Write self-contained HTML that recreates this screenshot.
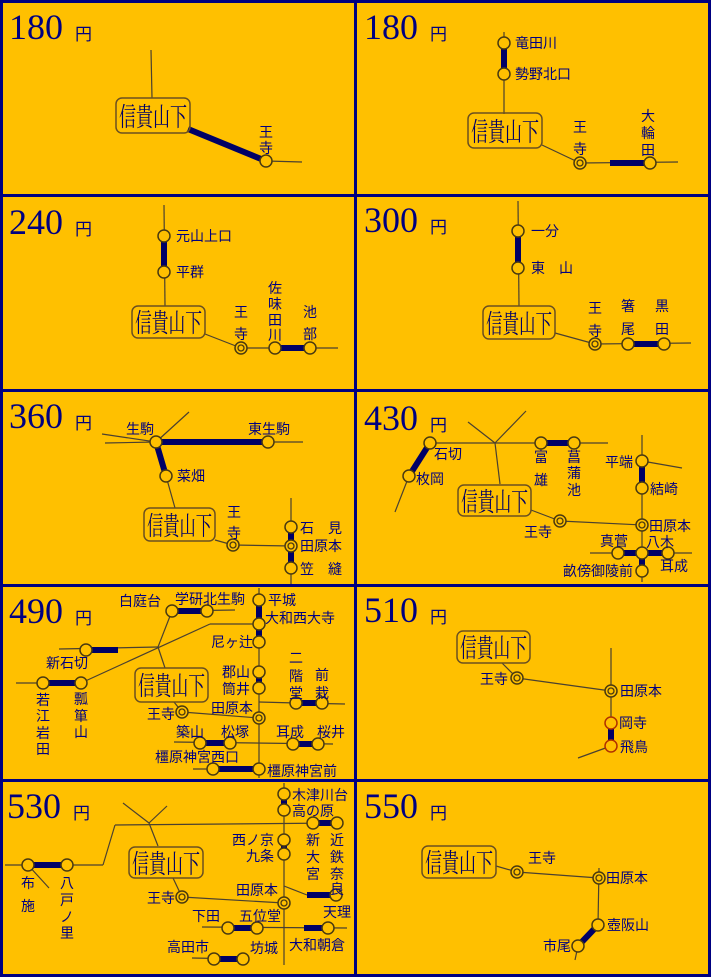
<!DOCTYPE html>
<html><head><meta charset="utf-8"><style>
html,body{margin:0;padding:0;background:#FFC000}
svg{display:block}
.t{stroke:#4a4030;stroke-width:1.2;fill:none}
.k{stroke:#000066;stroke-width:6;fill:none}
.c{fill:#FFC000;stroke:#4a3a10;stroke-width:1.5}
.i{fill:none;stroke:#4a3a10;stroke-width:1.3}
.b{fill:none;stroke:#6b5020;stroke-width:1.5}
text{fill:#000080;font-family:"Liberation Sans","Noto Sans CJK JP",sans-serif;font-size:14px}
.n{font-family:"Liberation Serif",serif;font-size:36px}
.y{font-size:17px}
.m{font-family:"Noto Serif CJK JP","Noto Sans CJK JP",serif;font-size:26px;fill:#000066}
.v{text-anchor:middle}
</style></head><body>
<svg width="711" height="977" viewBox="0 0 711 977" xmlns="http://www.w3.org/2000/svg">
<rect width="711" height="977" fill="#FFC000"/>
<g stroke="#000080" stroke-width="3">
<line x1="1.5" y1="0" x2="1.5" y2="977"/><line x1="355.5" y1="0" x2="355.5" y2="977"/><line x1="709.5" y1="0" x2="709.5" y2="977"/>
<line x1="0" y1="1.5" x2="711" y2="1.5"/><line x1="0" y1="195.5" x2="711" y2="195.5"/><line x1="0" y1="390.5" x2="711" y2="390.5"/><line x1="0" y1="585.5" x2="711" y2="585.5"/><line x1="0" y1="780.5" x2="711" y2="780.5"/><line x1="0" y1="975.5" x2="711" y2="975.5"/>
</g>

<!-- fares -->
<text class="n" x="9" y="39">180</text><text class="y" x="75" y="40">円</text>
<text class="n" x="364" y="39">180</text><text class="y" x="430" y="40">円</text>
<text class="n" x="9" y="234">240</text><text class="y" x="75" y="235">円</text>
<text class="n" x="364" y="232">300</text><text class="y" x="430" y="233">円</text>
<text class="n" x="9" y="428">360</text><text class="y" x="75" y="429">円</text>
<text class="n" x="364" y="430">430</text><text class="y" x="430" y="431">円</text>
<text class="n" x="9" y="623">490</text><text class="y" x="75" y="624">円</text>
<text class="n" x="364" y="622">510</text><text class="y" x="430" y="623">円</text>
<text class="n" x="7" y="818">530</text><text class="y" x="73" y="819">円</text>
<text class="n" x="364" y="818">550</text><text class="y" x="430" y="819">円</text>

<!-- Panel 1 -->
<line class="t" x1="151" y1="50" x2="152" y2="98"/>
<line class="k" x1="188" y1="129" x2="266" y2="161"/>
<line class="t" x1="266" y1="161" x2="302" y2="162"/>
<circle class="c" cx="266" cy="161" r="6"/>
<text class="v" x="266" y="137">王</text><text class="v" x="266" y="153">寺</text>
<rect class="b" x="116" y="98" width="74" height="35" rx="6"/>
<text class="m" x="119" y="126" textLength="68" lengthAdjust="spacingAndGlyphs">信貴山下</text>

<!-- Panel 2 -->
<line class="t" x1="504" y1="32" x2="504" y2="114"/>
<line class="k" x1="504" y1="43" x2="504" y2="74"/>
<circle class="c" cx="504" cy="43" r="6"/><circle class="c" cx="504" cy="74" r="6"/>
<text x="515" y="48">竜田川</text><text x="515" y="79">勢野北口</text>
<line class="t" x1="542" y1="145" x2="580" y2="163"/>
<line class="t" x1="580" y1="163" x2="678" y2="162"/>
<line class="k" x1="610" y1="163" x2="648" y2="163"/>
<circle class="c" cx="580" cy="163" r="6"/><circle class="i" cx="580" cy="163" r="3"/>
<circle class="c" cx="650" cy="163" r="6"/>
<text class="v" x="580" y="132">王</text><text class="v" x="580" y="154">寺</text>
<text class="v" x="648" y="121">大</text><text class="v" x="648" y="138">輪</text><text class="v" x="648" y="155">田</text>
<rect class="b" x="468" y="113" width="74" height="35" rx="6"/>
<text class="m" x="471" y="141" textLength="68" lengthAdjust="spacingAndGlyphs">信貴山下</text>

<!-- Panel 3 -->
<line class="t" x1="164" y1="205" x2="165" y2="306"/>
<line class="k" x1="164" y1="236" x2="164" y2="272"/>
<circle class="c" cx="164" cy="236" r="6"/><circle class="c" cx="164" cy="272" r="6"/>
<text x="176" y="241">元山上口</text><text x="176" y="277">平群</text>
<line class="t" x1="205" y1="334" x2="241" y2="348"/>
<line class="t" x1="241" y1="348" x2="338" y2="348"/>
<line class="k" x1="275" y1="348" x2="310" y2="348"/>
<circle class="c" cx="241" cy="348" r="6"/><circle class="i" cx="241" cy="348" r="3"/>
<circle class="c" cx="275" cy="348" r="6"/><circle class="c" cx="310" cy="348" r="6"/>
<text class="v" x="241" y="317">王</text><text class="v" x="241" y="339">寺</text>
<text class="v" x="275" y="293">佐</text><text class="v" x="275" y="309">味</text><text class="v" x="275" y="325">田</text><text class="v" x="275" y="340">川</text>
<text class="v" x="310" y="317">池</text><text class="v" x="310" y="339">部</text>
<rect class="b" x="132" y="306" width="73" height="32" rx="6"/>
<text class="m" x="135" y="332" textLength="67" lengthAdjust="spacingAndGlyphs">信貴山下</text>

<!-- Panel 4 -->
<line class="t" x1="518" y1="201" x2="519" y2="306"/>
<line class="k" x1="518" y1="231" x2="518" y2="268"/>
<circle class="c" cx="518" cy="231" r="6"/><circle class="c" cx="518" cy="268" r="6"/>
<text x="531" y="236">一分</text><text x="531" y="273">東　山</text>
<line class="t" x1="555" y1="333" x2="595" y2="344"/>
<line class="t" x1="595" y1="344" x2="691" y2="343"/>
<line class="k" x1="628" y1="344" x2="664" y2="344"/>
<circle class="c" cx="595" cy="344" r="6"/><circle class="i" cx="595" cy="344" r="3"/>
<circle class="c" cx="628" cy="344" r="6"/><circle class="c" cx="664" cy="344" r="6"/>
<text class="v" x="595" y="313">王</text><text class="v" x="595" y="336">寺</text>
<text class="v" x="628" y="311">箸</text><text class="v" x="628" y="334">尾</text>
<text class="v" x="662" y="311">黒</text><text class="v" x="662" y="334">田</text>
<rect class="b" x="483" y="306" width="72" height="33" rx="6"/>
<text class="m" x="486" y="333" textLength="66" lengthAdjust="spacingAndGlyphs">信貴山下</text>

<!-- Panel 5 -->
<line class="t" x1="102" y1="434" x2="156" y2="442"/>
<line class="t" x1="105" y1="443" x2="156" y2="442"/>
<line class="t" x1="156" y1="442" x2="189" y2="412"/>
<line class="t" x1="268" y1="442" x2="303" y2="442"/>
<line class="k" x1="156" y1="442" x2="268" y2="442"/>
<line class="k" x1="156" y1="442" x2="166" y2="476"/>
<line class="t" x1="166" y1="476" x2="175" y2="508"/>
<circle class="c" cx="156" cy="442" r="6"/><circle class="c" cx="268" cy="442" r="6"/><circle class="c" cx="166" cy="476" r="6"/>
<text x="126" y="434">生駒</text><text x="248" y="434">東生駒</text><text x="177" y="481">菜畑</text>
<line class="t" x1="215" y1="540" x2="233" y2="545"/>
<line class="t" x1="233" y1="545" x2="291" y2="546"/>
<line class="t" x1="291" y1="498" x2="291" y2="584"/>
<line class="k" x1="291" y1="527" x2="291" y2="568"/>
<circle class="c" cx="233" cy="545" r="6"/><circle class="i" cx="233" cy="545" r="3"/>
<circle class="c" cx="291" cy="527" r="6"/><circle class="c" cx="291" cy="546" r="6"/><circle class="i" cx="291" cy="546" r="3"/><circle class="c" cx="291" cy="568" r="6"/>
<text class="v" x="234" y="517">王</text><text class="v" x="234" y="538">寺</text>
<text x="300" y="533">石　見</text><text x="300" y="551">田原本</text><text x="300" y="574">笠　縫</text>
<rect class="b" x="144" y="508" width="71" height="33" rx="6"/>
<text class="m" x="147" y="535" textLength="65" lengthAdjust="spacingAndGlyphs">信貴山下</text>

<!-- Panel 6 -->
<line class="t" x1="468" y1="422" x2="495" y2="443"/>
<line class="t" x1="495" y1="443" x2="526" y2="411"/>
<line class="t" x1="495" y1="443" x2="500" y2="484"/>
<line class="t" x1="430" y1="443" x2="608" y2="443"/>
<line class="k" x1="541" y1="443" x2="574" y2="443"/>
<line class="k" x1="430" y1="443" x2="409" y2="476"/>
<line class="t" x1="409" y1="476" x2="395" y2="512"/>
<circle class="c" cx="430" cy="443" r="6"/><circle class="c" cx="409" cy="476" r="6"/><circle class="c" cx="541" cy="443" r="6"/><circle class="c" cx="574" cy="443" r="6"/>
<text x="434" y="459">石切</text><text x="416" y="484">枚岡</text>
<text class="v" x="541" y="462">富</text><text class="v" x="541" y="485">雄</text>
<text class="v" x="574" y="462">菖</text><text class="v" x="574" y="478">蒲</text><text class="v" x="574" y="495">池</text>
<line class="t" x1="531" y1="510" x2="560" y2="521"/>
<line class="t" x1="560" y1="521" x2="642" y2="525"/>
<line class="t" x1="642" y1="435" x2="642" y2="582"/>
<line class="t" x1="642" y1="461" x2="682" y2="468"/>
<line class="k" x1="642" y1="461" x2="642" y2="488"/>
<line class="t" x1="590" y1="553" x2="692" y2="553"/>
<line class="k" x1="618" y1="553" x2="668" y2="553"/>
<line class="k" x1="642" y1="553" x2="642" y2="571"/>
<circle class="c" cx="560" cy="521" r="6"/><circle class="i" cx="560" cy="521" r="3"/>
<circle class="c" cx="642" cy="461" r="6"/><circle class="c" cx="642" cy="488" r="6"/>
<circle class="c" cx="642" cy="525" r="6"/><circle class="i" cx="642" cy="525" r="3"/>
<circle class="c" cx="618" cy="553" r="6"/><circle class="c" cx="642" cy="553" r="6"/><circle class="c" cx="668" cy="553" r="6"/><circle class="c" cx="642" cy="571" r="6"/>
<text x="605" y="467">平端</text><text x="650" y="494">結崎</text><text x="524" y="537">王寺</text>
<text x="649" y="531">田原本</text><text x="600" y="546">真菅</text><text x="646" y="547">八木</text>
<text x="660" y="571">耳成</text><text x="563" y="576">畝傍御陵前</text>
<rect class="b" x="458" y="485" width="73" height="31" rx="6"/>
<text class="m" x="461" y="511" textLength="67" lengthAdjust="spacingAndGlyphs">信貴山下</text>

<!-- Panel 7 -->
<line class="t" x1="259" y1="588" x2="259" y2="778"/>
<line class="k" x1="259" y1="600" x2="259" y2="642"/>
<line class="k" x1="259" y1="672" x2="259" y2="688"/>
<line class="t" x1="172" y1="611" x2="235" y2="610"/>
<line class="k" x1="172" y1="611" x2="207" y2="611"/>
<line class="t" x1="172" y1="611" x2="158" y2="647"/>
<line class="t" x1="158" y1="647" x2="165" y2="668"/>
<line class="t" x1="59" y1="649" x2="158" y2="647"/>
<line class="k" x1="86" y1="650" x2="118" y2="650"/>
<line class="t" x1="259" y1="624" x2="210" y2="624"/>
<line class="t" x1="210" y1="624" x2="81" y2="683"/>
<line class="t" x1="16" y1="683" x2="43" y2="683"/>
<line class="k" x1="43" y1="683" x2="81" y2="683"/>
<line class="t" x1="174" y1="702" x2="182" y2="712"/>
<line class="t" x1="182" y1="712" x2="259" y2="718"/>
<line class="t" x1="259" y1="702" x2="296" y2="703"/>
<line class="t" x1="296" y1="703" x2="345" y2="704"/>
<line class="k" x1="296" y1="703" x2="322" y2="703"/>
<line class="t" x1="174" y1="742" x2="333" y2="744"/>
<line class="k" x1="200" y1="743" x2="230" y2="743"/>
<line class="k" x1="293" y1="744" x2="318" y2="744"/>
<line class="t" x1="193" y1="769" x2="213" y2="769"/>
<line class="k" x1="213" y1="769" x2="259" y2="769"/>
<circle class="c" cx="259" cy="600" r="6"/><circle class="c" cx="259" cy="624" r="6"/><circle class="c" cx="259" cy="642" r="6"/>
<circle class="c" cx="259" cy="672" r="6"/><circle class="c" cx="259" cy="688" r="6"/>
<circle class="c" cx="259" cy="718" r="6"/><circle class="i" cx="259" cy="718" r="3"/>
<circle class="c" cx="259" cy="769" r="6"/>
<circle class="c" cx="172" cy="611" r="6"/><circle class="c" cx="207" cy="611" r="6"/>
<circle class="c" cx="86" cy="650" r="6"/><circle class="c" cx="43" cy="683" r="6"/><circle class="c" cx="81" cy="683" r="6"/>
<circle class="c" cx="182" cy="712" r="6"/><circle class="i" cx="182" cy="712" r="3"/>
<circle class="c" cx="296" cy="703" r="6"/><circle class="c" cx="322" cy="703" r="6"/>
<circle class="c" cx="200" cy="743" r="6"/><circle class="c" cx="230" cy="743" r="6"/><circle class="c" cx="293" cy="744" r="6"/><circle class="c" cx="318" cy="744" r="6"/>
<circle class="c" cx="213" cy="769" r="6"/>
<text x="119" y="606">白庭台</text><text x="175" y="604">学研北生駒</text>
<text x="268" y="605">平城</text><text x="265" y="623">大和西大寺</text><text x="211" y="647">尼ヶ辻</text>
<text x="46" y="668">新石切</text><text x="222" y="677">郡山</text><text x="222" y="694">筒井</text>
<text class="v" x="296" y="663">二</text><text class="v" x="296" y="681">階</text><text class="v" x="296" y="698">堂</text>
<text class="v" x="322" y="680">前</text><text class="v" x="322" y="698">栽</text>
<text class="v" x="43" y="705">若</text><text class="v" x="43" y="721">江</text><text class="v" x="43" y="738">岩</text><text class="v" x="43" y="754">田</text>
<text class="v" x="81" y="704">瓢</text><text class="v" x="81" y="721">箪</text><text class="v" x="81" y="737">山</text>
<text x="147" y="719">王寺</text><text x="211" y="713">田原本</text>
<text x="176" y="737">築山</text><text x="221" y="737">松塚</text><text x="276" y="737">耳成</text><text x="317" y="737">桜井</text>
<text x="155" y="762">橿原神宮西口</text><text x="267" y="776">橿原神宮前</text>
<rect class="b" x="135" y="668" width="73" height="34" rx="6"/>
<text class="m" x="138" y="695" textLength="67" lengthAdjust="spacingAndGlyphs">信貴山下</text>

<!-- Panel 8 -->
<line class="t" x1="502" y1="663" x2="517" y2="678"/>
<line class="t" x1="517" y1="678" x2="611" y2="691"/>
<line class="t" x1="611" y1="648" x2="611" y2="746"/>
<line class="k" x1="611" y1="723" x2="611" y2="746"/>
<line class="t" x1="611" y1="746" x2="578" y2="758"/>
<circle class="c" cx="517" cy="678" r="6"/><circle class="i" cx="517" cy="678" r="3"/>
<circle class="c" cx="611" cy="691" r="6"/><circle class="i" cx="611" cy="691" r="3"/>
<circle class="c" cx="611" cy="723" r="6" style="stroke:#b03000"/><circle class="c" cx="611" cy="746" r="6" style="stroke:#b03000"/>
<text x="480" y="684">王寺</text><text x="620" y="696">田原本</text><text x="619" y="728">岡寺</text><text x="620" y="752">飛鳥</text>
<rect class="b" x="457" y="631" width="73" height="32" rx="6"/>
<text class="m" x="460" y="657" textLength="67" lengthAdjust="spacingAndGlyphs">信貴山下</text>

<!-- Panel 9 -->
<line class="t" x1="284" y1="783" x2="284" y2="965"/>
<line class="k" x1="284" y1="794" x2="284" y2="810"/>
<line class="k" x1="284" y1="840" x2="284" y2="854"/>
<line class="t" x1="5" y1="865" x2="103" y2="865"/>
<line class="k" x1="28" y1="865" x2="67" y2="865"/>
<line class="t" x1="103" y1="865" x2="115" y2="825"/>
<line class="t" x1="115" y1="825" x2="337" y2="823"/>
<line class="k" x1="313" y1="823" x2="337" y2="823"/>
<line class="t" x1="28" y1="865" x2="49" y2="888"/>
<line class="t" x1="123" y1="803" x2="149" y2="823"/>
<line class="t" x1="149" y1="823" x2="167" y2="806"/>
<line class="t" x1="149" y1="823" x2="158" y2="846"/>
<line class="t" x1="173" y1="878" x2="182" y2="897"/>
<line class="t" x1="182" y1="897" x2="284" y2="903"/>
<line class="t" x1="284" y1="886" x2="307" y2="895"/>
<line class="k" x1="307" y1="895" x2="336" y2="895"/>
<line class="t" x1="202" y1="927" x2="347" y2="928"/>
<line class="k" x1="228" y1="928" x2="257" y2="928"/>
<line class="k" x1="304" y1="928" x2="328" y2="928"/>
<line class="t" x1="192" y1="958" x2="243" y2="959"/>
<line class="k" x1="214" y1="959" x2="243" y2="959"/>
<circle class="c" cx="284" cy="794" r="6"/><circle class="c" cx="284" cy="810" r="6"/>
<circle class="c" cx="284" cy="840" r="6"/><circle class="c" cx="284" cy="854" r="6"/>
<circle class="c" cx="284" cy="903" r="6"/><circle class="i" cx="284" cy="903" r="3"/>
<circle class="c" cx="28" cy="865" r="6"/><circle class="c" cx="67" cy="865" r="6"/>
<circle class="c" cx="313" cy="823" r="6"/><circle class="c" cx="337" cy="823" r="6"/>
<circle class="c" cx="182" cy="897" r="6"/><circle class="i" cx="182" cy="897" r="3"/>
<circle class="c" cx="336" cy="895" r="6"/>
<circle class="c" cx="228" cy="928" r="6"/><circle class="c" cx="257" cy="928" r="6"/><circle class="c" cx="328" cy="928" r="6"/>
<circle class="c" cx="214" cy="959" r="6"/><circle class="c" cx="243" cy="959" r="6"/>
<text x="292" y="800">木津川台</text><text x="292" y="816">高の原</text>
<text x="232" y="845">西ノ京</text><text x="246" y="861">九条</text>
<text class="v" x="313" y="845">新</text><text class="v" x="313" y="862">大</text><text class="v" x="313" y="879">宮</text>
<text class="v" x="337" y="845">近</text><text class="v" x="337" y="862">鉄</text><text class="v" x="337" y="879">奈</text><text class="v" x="337" y="894">良</text>
<text class="v" x="28" y="888">布</text><text class="v" x="28" y="911">施</text>
<text class="v" x="67" y="888">八</text><text class="v" x="67" y="905">戸</text><text class="v" x="67" y="922">ノ</text><text class="v" x="67" y="938">里</text>
<text x="147" y="903">王寺</text><text x="236" y="895">田原本</text><text x="323" y="917">天理</text>
<text x="192" y="921">下田</text><text x="239" y="921">五位堂</text><text x="289" y="950">大和朝倉</text>
<text x="167" y="952">高田市</text><text x="250" y="953">坊城</text>
<rect class="b" x="129" y="847" width="74" height="31" rx="6"/>
<text class="m" x="132" y="873" textLength="68" lengthAdjust="spacingAndGlyphs">信貴山下</text>

<!-- Panel 10 -->
<line class="t" x1="496" y1="866" x2="517" y2="872"/>
<line class="t" x1="517" y1="872" x2="599" y2="878"/>
<line class="t" x1="599" y1="868" x2="598" y2="925"/>
<line class="k" x1="598" y1="925" x2="578" y2="946"/>
<line class="t" x1="578" y1="946" x2="575" y2="960"/>
<circle class="c" cx="517" cy="872" r="6"/><circle class="i" cx="517" cy="872" r="3"/>
<circle class="c" cx="599" cy="878" r="6"/><circle class="i" cx="599" cy="878" r="3"/>
<circle class="c" cx="598" cy="925" r="6"/><circle class="c" cx="578" cy="946" r="6"/>
<text x="528" y="863">王寺</text><text x="606" y="883">田原本</text><text x="607" y="930">壺阪山</text><text x="543" y="951">市尾</text>
<rect class="b" x="422" y="846" width="74" height="32" rx="6"/>
<text class="m" x="425" y="872" textLength="68" lengthAdjust="spacingAndGlyphs">信貴山下</text>
</svg>
</body></html>
